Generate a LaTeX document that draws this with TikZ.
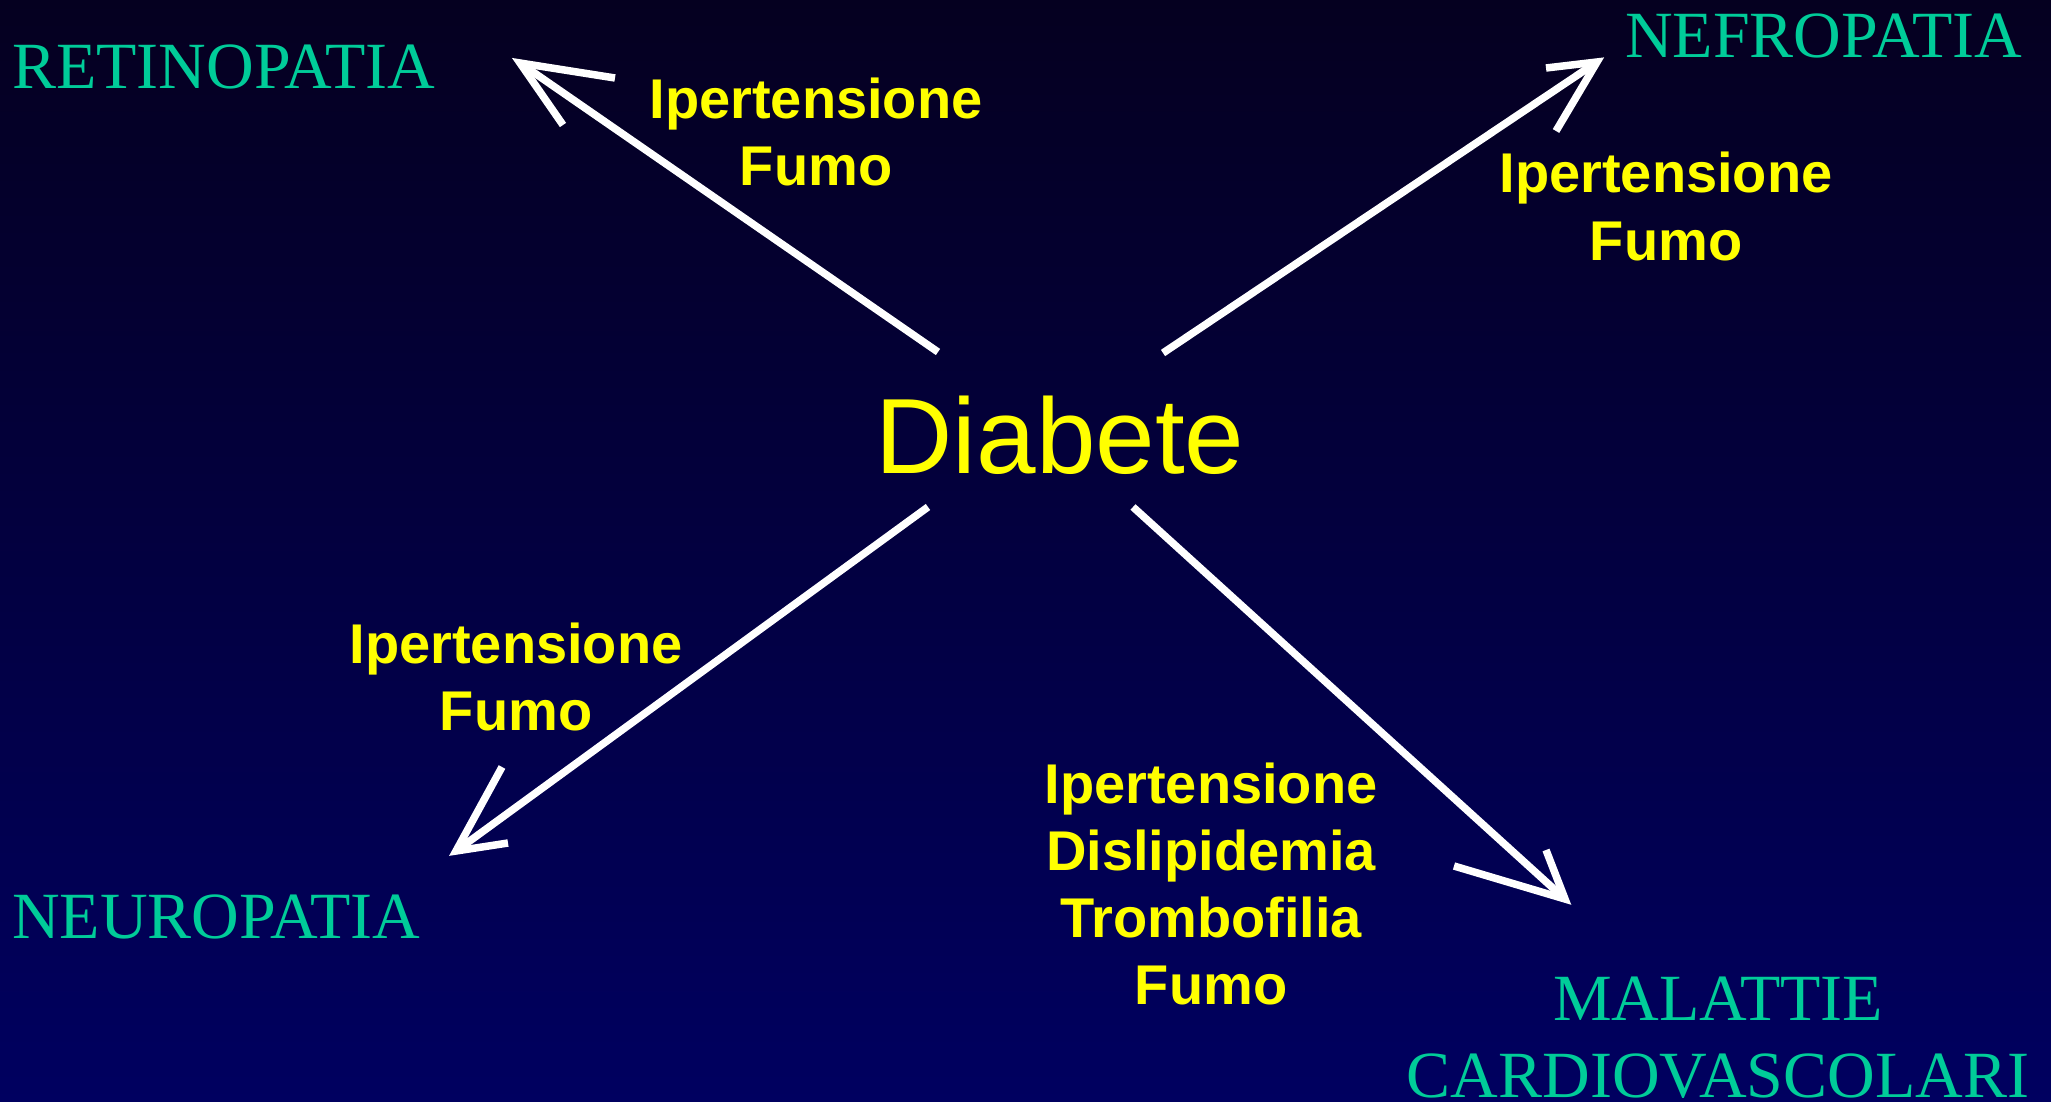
\documentclass[tikz,border=0pt]{standalone}
\usepackage{fontspec}
\setmainfont{Liberation Serif}
\newfontfamily\arialf{Liberation Sans}
\definecolor{bgtop}{RGB}{5,0,32}
\definecolor{bgbot}{RGB}{0,0,96}
\definecolor{lblteal}{RGB}{0,204,153}
\definecolor{lblyellow}{RGB}{255,255,0}
\begin{document}
\begin{tikzpicture}[x=1pt,y=-1pt,
  disease/.style={text=lblteal, font=\fontsize{66}{77}\selectfont, inner sep=0pt, align=center},
  factor/.style={text=lblyellow, font=\arialf\bfseries\fontsize{56}{67}\selectfont, align=center, inner sep=0pt},
  hub/.style={text=lblyellow, font=\arialf\fontsize{107}{120}\selectfont, inner sep=0pt},
  conn/.style={draw=white, line width=7.5pt, line join=miter, line cap=butt}]
\shade[top color=bgtop, bottom color=bgbot] (0,0) rectangle (2051,1102);
\useasboundingbox (0,0) rectangle (2051,1102);

% central node
\node[hub, anchor=base] (diab) at (1060,473) {Diabete};

% outcomes
\node[disease, anchor=base west] (retino) at (12,89) {RETINOPATIA};
\node[disease, anchor=base west] (nefro) at (1625,58) {NEFROPATIA};
\node[disease, anchor=base west] (neuro) at (12,938) {NEUROPATIA};
\node[disease, anchor=base] (cardio) at (1718,1097) {MALATTIE\\CARDIOVASCOLARI};

% risk factors (anchor base = baseline of last line)
\node[factor, anchor=base] (f1) at (816,186) {Ipertensione\\Fumo};
\node[factor, anchor=base] (f2) at (1666,260) {Ipertensione\\Fumo};
\node[factor, anchor=base] (f3) at (516,730) {Ipertensione\\Fumo};
\node[factor, anchor=base] (f4) at (1211,1004) {Ipertensione\\Dislipidemia\\Trombofilia\\Fumo};

% arrow coordinates
\coordinate (s1) at (938,352); \coordinate (t1) at (520,63);
\coordinate (s2) at (1163,353); \coordinate (t2) at (1597,62);
\coordinate (s3) at (928,507); \coordinate (t3) at (456,851);
\coordinate (s4) at (1133,507); \coordinate (t4) at (1565,899);

% shafts
\draw[conn] (s1) -- (t1);
\draw[conn] (s2) -- (t2);
\draw[conn] (s3) -- (t3);
\draw[conn] (s4) -- (t4);
% open heads
\draw[conn] (615,78) -- (t1) -- (563,125);
\draw[conn] (1546,68) -- (t2) -- (1556,131);
\draw[conn] (508,843) -- (t3) -- (502,767);
\draw[conn] (1454,866) -- (t4) -- (1546,850);
\end{tikzpicture}
\end{document}
